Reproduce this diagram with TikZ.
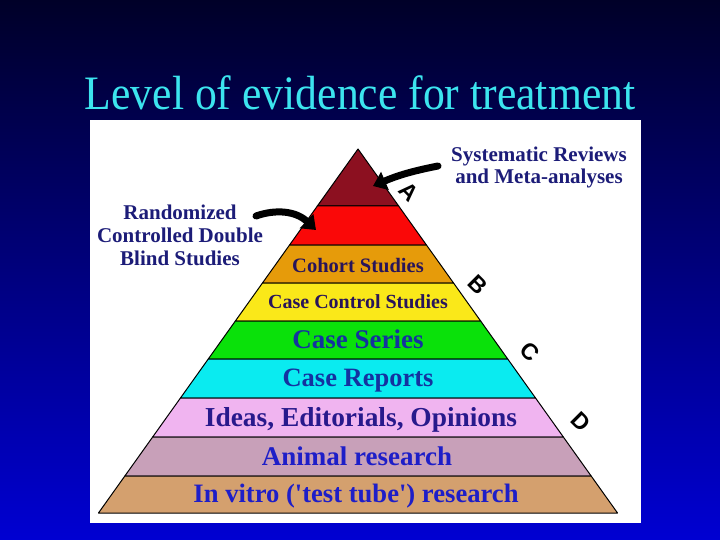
\documentclass[tikz,border=0pt]{standalone}
\usepackage{fontspec}
\setmainfont{Liberation Serif}
\newfontfamily\gradefont{Liberation Sans}
\usetikzlibrary{arrows.meta}
\definecolor{bgtop}{RGB}{0,0,40}
\definecolor{bgbot}{RGB}{0,0,210}
\definecolor{titlecyan}{RGB}{60,228,238}
\definecolor{sidenavy}{RGB}{28,28,120}
\definecolor{lvA}{RGB}{140,16,32}
\definecolor{lvB}{RGB}{250,8,8}
\definecolor{lvC}{RGB}{230,155,10}
\definecolor{lvD}{RGB}{250,232,25}
\definecolor{lvE}{RGB}{10,225,10}
\definecolor{lvF}{RGB}{10,235,240}
\definecolor{lvG}{RGB}{240,180,240}
\definecolor{lvH}{RGB}{200,160,185}
\definecolor{lvI}{RGB}{212,160,110}
\definecolor{txdark}{RGB}{40,20,90}
\definecolor{txblue}{RGB}{20,50,160}
\definecolor{txpurp}{RGB}{40,25,140}
\definecolor{txbright}{RGB}{30,30,200}

\begin{document}
\begin{tikzpicture}[x=1pt, y=-1pt,
  band/.style={draw=black, line width=1pt, line join=round},
  lvl/.style={anchor=base, font=\fontsize{#1}{#1}\selectfont\bfseries},
  side/.style={anchor=base, align=center, text=sidenavy,
               font=\fontsize{21}{22.5}\selectfont\bfseries},
  ptr/.style={line width=7pt, line cap=round, -{Triangle[length=13pt,width=19pt]}},
  grade/.style={font=\gradefont\fontsize{23}{23}\selectfont\bfseries, rotate=-45}
]
  \useasboundingbox (0,0) rectangle (720,540);
  \shade[top color=bgtop, bottom color=bgbot] (0,0) rectangle (720,540);
  \fill[white] (90,120) rectangle (641,523);

  % Title
  \node[anchor=base, text=titlecyan, font=\fontsize{48}{48}\selectfont] (title) at (360,110)
    {\scalebox{0.91}[1]{Level of evidence for treatment}};

  % Pyramid bands, apex at (358,149)
  \foreach \ya/\yb/\bandcol in {149/206/lvA, 206/245/lvB, 245/283/lvC, 283/321/lvD,
      321/359/lvE, 359/398/lvF, 398/437/lvG, 437/476/lvH, 476/513/lvI}{
    \pgfmathsetmacro{\wa}{0.713*(\ya-149)}
    \pgfmathsetmacro{\wb}{0.713*(\yb-149)}
    \filldraw[band, fill=\bandcol] (358-\wa,\ya) -- (358+\wa,\ya) -- (358+\wb,\yb) -- (358-\wb,\yb) -- cycle;
  }

  % Band texts
  \node[lvl=20.5, text=txdark] (cohort) at (358,272) {Cohort Studies};
  \node[lvl=20, text=txdark] (casectl) at (358,308) {Case Control Studies};
  \node[lvl=27, text=txblue] (series) at (358,348) {Case Series};
  \node[lvl=26.5, text=txblue] (reports) at (358,386) {Case Reports};
  \node[lvl=27.4, text=txpurp] (ideas) at (361,426) {Ideas, Editorials, Opinions};
  \node[lvl=27, text=txbright] (animal) at (357,465) {Animal research};
  \node[lvl=26.6, text=txbright] (vitro) at (356,502)
    {In vitro (\textquotesingle test tube\textquotesingle) research};

  % Side labels (base = last line)
  \node[side] (sysrev) at (539,184) {Systematic Reviews\\and Meta-analyses};
  \node[side] (rct) at (180,265) {Randomized\\Controlled Double\\Blind Studies};

  % Pointers
  \coordinate (sysTail) at (438,166);
  \coordinate (sysTip) at (373,186);
  \coordinate (rctTail) at (256,216);
  \coordinate (rctTip) at (316,230);
  \draw[ptr] (sysTail) to[bend right=6] (sysTip);
  \draw[ptr] (rctTail) .. controls (276,209) and (296,211) .. (rctTip);

  % Grades along the right edge
  \node[grade] (gA) at (409,192) {A};
  \node[grade] (gB) at (478,285) {B};
  \node[grade] (gC) at (530,352) {C};
  \node[grade] (gD) at (581,422) {D};
\end{tikzpicture}
\end{document}
